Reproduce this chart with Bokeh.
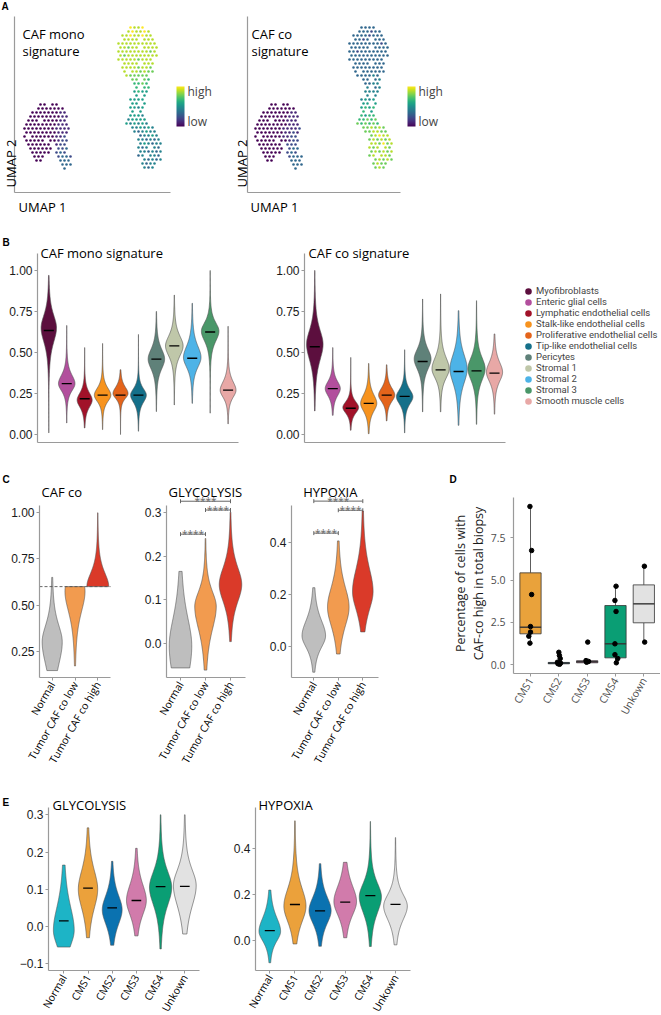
import math
import numpy as np
from bokeh.plotting import figure
from bokeh.models import (Label, ColorBar, LinearColorMapper, FixedTicker, Legend,
                          LegendItem, Whisker, TeeHead, ColumnDataSource, Range1d,
                          NumeralTickFormatter)
from bokeh.layouts import column, row
from bokeh.palettes import Viridis256
from bokeh.embed import file_html
from bokeh.resources import INLINE

SANS = "Open Sans"
ARIAL = "Liberation Sans"
AXIS_GRAY = "#9a9a9a"
OUTLINE = "#505050"

# ----------------------------------------------------------------- data: A (UMAP)
# each character is one cell of the picture: '.' empty, digit = signature level 0..9
umap_left_mono = [
    "....00.00...",
    "...0000000..",
    "..000000011.",
    ".0000000011.",
    ".000.000011.",
    "00000000111.",
    "000000001111",
    "00000000111.",
    "0.000000112.",
    "00000.00122.",
    ".000000.122.",
    ".000000.223.",
    "..00000.232.",
    "..000...2332",
    "...00....333",
    ".........333",
    "..........3.",
]
umap_left_co = [
    "....00.00...",
    "...0000000..",
    "..000000011.",
    ".0000000111.",
    ".000.000111.",
    "00000000111.",
    "000000011112",
    "00000001121.",
    "0.000001122.",
    "00000.00122.",
    ".000000.222.",
    ".000000.233.",
    "..00000.232.",
    "..000...2333",
    "...00....333",
    ".........333",
    "..........3.",
]
umap_right_mono = [
    "...9889....",
    "..898898...",
    ".88988988..",
    ".8888.888..",
    "8888888888.",
    "88788.8888.",
    "8888888878.",
    "8788888888.",
    "888887888..",
    ".8888.888..",
    ".88887887..",
    ".8.887877..",
    "..877777...",
    "...77.76...",
    "....6676...",
    "....6.66...",
    "....5655...",
    "....5.5....",
    "...5555....",
    "...55.5....",
    "...5545....",
    "...5.5.....",
    "...5554....",
    "..45555....",
    "..545454...",
    "...445454..",
    "....434544.",
    ".....34454.",
    ".....443434",
    ".....454344",
    ".....434.43",
    ".....443434",
    ".....34.443",
    "......43434",
    "......4344.",
    "......434..",
]
umap_right_co = [
    "...3333....",
    "..333233...",
    ".33332333..",
    ".3323.333..",
    "3333333323.",
    "33333.3333.",
    "3323333333.",
    "3333333333.",
    "333333333..",
    ".3333.333..",
    ".33333333..",
    ".3.333333..",
    "..333343...",
    "...33.34...",
    "....3344...",
    "....4.34...",
    "....4444...",
    "....4.4....",
    "...4545....",
    "...55.5....",
    "...5656....",
    "...6.5.....",
    "...6566....",
    "..66767....",
    "..767676...",
    "...778787..",
    "....778877.",
    ".....78988.",
    ".....787878",
    ".....887978",
    ".....878.87",
    ".....787878",
    ".....78.887",
    "......78787",
    "......7877.",
    "......787..",
]
left_cluster_origin = (-6.8, 0.0)
right_cluster_origin = (2.6, 7.7)
umap_cell = 0.4

# ----------------------------------------------------------------- data: B
cell_types = ["Myofibroblasts", "Enteric glial cells", "Lymphatic endothelial cells",
              "Stalk-like endothelial cells", "Proliferative endothelial cells",
              "Tip-like endothelial cells", "Pericytes", "Stromal 1", "Stromal 2",
              "Stromal 3", "Smooth muscle cells"]
cell_colors = ["#5C0F3E", "#B24F9D", "#A11229", "#F7931E", "#E4641B", "#15708A",
               "#5F8179", "#BFC7A9", "#4DB3E7", "#4A9769", "#E8A8A6"]
mono_lo = [0.01, 0.07, 0.04, 0.03, 0.00, 0.02, 0.14, 0.18, 0.19, 0.13, 0.065]
mono_hi = [0.97, 0.665, 0.53, 0.555, 0.395, 0.61, 0.75, 0.85, 0.80, 1.00, 0.66]
mono_med = [0.634, 0.31, 0.218, 0.24, 0.24, 0.24, 0.46, 0.54, 0.465, 0.625, 0.27]
mono_peak = [0.65, 0.31, 0.21, 0.24, 0.25, 0.24, 0.46, 0.54, 0.47, 0.63, 0.27]
mono_wid = [0.43, 0.46, 0.42, 0.46, 0.42, 0.44, 0.46, 0.49, 0.49, 0.49, 0.44]
mono_sup = [0.09, 0.06, 0.05, 0.05, 0.045, 0.045, 0.07, 0.07, 0.08, 0.06, 0.06]
mono_sdn = [0.10, 0.05, 0.05, 0.045, 0.035, 0.05, 0.07, 0.07, 0.07, 0.07, 0.05]

co_lo = [0.144, 0.117, 0.026, 0.005, 0.083, 0.01, 0.138, 0.138, 0.056, 0.062, 0.124]
co_hi = [1.00, 0.53, 0.47, 0.433, 0.425, 0.517, 0.826, 0.857, 0.755, 0.816, 0.613]
co_med = [0.535, 0.28, 0.16, 0.19, 0.24, 0.233, 0.445, 0.394, 0.384, 0.388, 0.374]
co_peak = [0.55, 0.28, 0.165, 0.19, 0.24, 0.23, 0.46, 0.40, 0.40, 0.40, 0.38]
co_wid = [0.46, 0.42, 0.44, 0.45, 0.45, 0.46, 0.47, 0.48, 0.48, 0.48, 0.45]
co_sup = [0.10, 0.05, 0.04, 0.06, 0.05, 0.05, 0.07, 0.08, 0.10, 0.08, 0.07]
co_sdn = [0.11, 0.05, 0.04, 0.055, 0.045, 0.05, 0.07, 0.065, 0.10, 0.08, 0.065]

# ----------------------------------------------------------------- data: C
c_groups = ["Normal", "Tumor CAF co low", "Tumor CAF co high"]
c_colors = ["#BEBEBE", "#F29B4F", "#DA3A29"]
cafco_lo = [0.145, 0.17, 0.60]
cafco_hi = [0.65, 0.60, 1.00]
cafco_peak = [0.30, 0.575, 0.60]
cafco_wid = [0.44, 0.44, 0.48]
cafco_sup = [0.108, 0.10, 0.087]
cafco_sdn = [0.146, 0.13, 0.05]
cafco_cut = 0.6

glyc_lo = [-0.055, -0.06, 0.005]
glyc_hi = [0.165, 0.24, 0.30]
glyc_peak = [-0.005, 0.085, 0.135]
glyc_wid = [0.45, 0.43, 0.45]
glyc_sup = [0.076, 0.04, 0.046]
glyc_sdn = [0.09, 0.061, 0.046]
glyc_brackets = [(1, 2, 0.25), (2, 3, 0.305), (1, 3, 0.325)]

hyp_lo = [-0.10, -0.03, 0.055]
hyp_hi = [0.225, 0.405, 0.52]
hyp_peak = [0.04, 0.15, 0.21]
hyp_wid = [0.48, 0.44, 0.42]
hyp_sup = [0.07, 0.091, 0.104]
hyp_sdn = [0.053, 0.086, 0.082]
hyp_brackets = [(1, 2, 0.435), (2, 3, 0.523), (1, 3, 0.558)]
signif = "****"

# ----------------------------------------------------------------- data: D
cms = ["CMS1", "CMS2", "CMS3", "CMS4", "Unkown"]
d_colors = ["#E9A23B", "#0A72B0", "#D17BAB", "#0A9E74", "#E2E2E2"]
d_q1 = [1.83, 0.06, 0.12, 0.41, 2.48]
d_med = [2.22, 0.10, 0.18, 1.24, 3.60]
d_q3 = [5.43, 0.14, 0.24, 3.50, 4.72]
d_wlo = [1.28, 0.06, 0.12, 0.12, 1.34]
d_whi = [9.41, 0.14, 0.24, 4.64, 5.82]
d_pt_group = [1] * 7 + [2] * 7 + [3] * 4 + [4] * 7 + [5] * 2
d_pt_val = [9.35, 6.75, 4.15, 2.26, 1.93, 1.69, 1.28,
            0.74, 0.55, 0.37, 0.15, 0.10, 0.06, 0.03,
            1.34, 0.25, 0.20, 0.15,
            4.64, 3.80, 3.15, 1.24, 0.60, 0.37, 0.12,
            5.82, 1.34]
d_pt_jitter = [-0.02, 0.04, 0.04, 0.0, 0.0, -0.06, -0.02,
               0.0, 0.02, 0.05, -0.05, 0.06, -0.03, 0.03,
               0.02, -0.04, 0.05, -0.02,
               0.02, -0.02, 0.02, -0.02, -0.02, 0.08, 0.03,
               0.02, 0.03]

# ----------------------------------------------------------------- data: E
e_groups = ["Normal", "CMS1", "CMS2", "CMS3", "CMS4", "Unkown"]
e_colors = ["#1DB4C6", "#EBA13B", "#0A72B0", "#D17BAB", "#0A9E74", "#E2E2E2"]
eg_lo = [-0.055, -0.03, -0.05, -0.025, -0.06, -0.02]
eg_hi = [0.165, 0.265, 0.175, 0.21, 0.30, 0.30]
eg_med = [0.015, 0.103, 0.05, 0.07, 0.107, 0.108]
eg_peak = [-0.01, 0.10, 0.045, 0.07, 0.105, 0.11]
eg_wid = [0.43, 0.40, 0.41, 0.41, 0.46, 0.47]
eg_sup = [0.075, 0.06, 0.045, 0.05, 0.05, 0.05]
eg_sdn = [0.049, 0.06, 0.045, 0.045, 0.055, 0.065]

eh_lo = [-0.097, -0.015, -0.025, 0.012, -0.026, -0.019]
eh_hi = [0.22, 0.522, 0.335, 0.341, 0.519, 0.449]
eh_med = [0.043, 0.157, 0.129, 0.167, 0.196, 0.158]
eh_peak = [0.04, 0.15, 0.13, 0.17, 0.19, 0.15]
eh_wid = [0.43, 0.44, 0.44, 0.45, 0.44, 0.47]
eh_sup = [0.07, 0.09, 0.07, 0.08, 0.07, 0.06]
eh_sdn = [0.05, 0.08, 0.065, 0.07, 0.08, 0.07]

# ----------------------------------------------------------------- helpers
FR = {}


def make_fig(X0, Y0, W, H, xm, ym):
    """xm / ym = (page pixel, data value at that pixel, pixels per data unit)."""
    xr = (xm[1] + (X0 - xm[0]) / xm[2], xm[1] + (X0 + W - xm[0]) / xm[2])
    yr = (ym[1] - (Y0 + H - ym[0]) / ym[2], ym[1] + (ym[0] - Y0) / ym[2])
    p = figure(width=W, height=H, x_range=Range1d(*xr), y_range=Range1d(*yr),
               output_backend="svg", toolbar_location=None, min_border=0,
               min_border_left=0, min_border_right=0, min_border_top=0,
               min_border_bottom=0)
    p.grid.visible = False
    p.outline_line_color = None
    p.background_fill_color = "white"
    p.border_fill_color = "white"
    for ax in (p.xaxis[0], p.yaxis[0]):
        ax.axis_line_color = AXIS_GRAY
        ax.axis_line_width = 1.2
        ax.major_tick_line_color = AXIS_GRAY
        ax.major_tick_in = 0
        ax.major_tick_out = 3
        ax.minor_tick_line_color = None
        ax.major_label_standoff = 2
    FR[p.id] = (X0, Y0, W, H, xm, ym)
    return p


def xv(p, pix):
    xm = FR[p.id][4]
    return xm[1] + (pix - xm[0]) / xm[2]


def yv(p, pix):
    ym = FR[p.id][5]
    return ym[1] + (ym[0] - pix) / ym[2]


def set_axes(p, left, right, top, bottom):
    p.yaxis[0].fixed_location = xv(p, left)
    p.yaxis[0].bounds = (yv(p, bottom), yv(p, top))
    p.xaxis[0].fixed_location = yv(p, bottom)
    p.xaxis[0].bounds = (xv(p, left), xv(p, right))


def add_text(p, X, Y, text, size, font=SANS, bold=False, color="black",
             align="left", baseline="alphabetic", angle=0.0):
    X0, Y0, W, H = FR[p.id][:4]
    p.add_layout(Label(x=X - X0, y=Y0 + H - Y, x_units="screen", y_units="screen",
                       text=text, text_font=font, text_font_size=f"{size}px",
                       text_font_style="bold" if bold else "normal",
                       text_color=color, text_align=align, text_baseline=baseline,
                       angle=angle))


def no_ticks(ax):
    ax.ticker = FixedTicker(ticks=[])
    ax.major_tick_line_color = None
    ax.major_label_text_font_size = "0px"


def y_ticks(ax, ticks, fmt, font=ARIAL, size=12, color="#1a1a1a"):
    ax.ticker = FixedTicker(ticks=ticks)
    ax.formatter = NumeralTickFormatter(format=fmt)
    ax.major_label_text_font = font
    ax.major_label_text_font_size = f"{size}px"
    ax.major_label_text_color = color


def x_cats(ax, labels, size=10.5, color="black"):
    ax.ticker = FixedTicker(ticks=list(range(1, len(labels) + 1)))
    ax.major_label_overrides = {i + 1: lab for i, lab in enumerate(labels)}
    ax.major_label_orientation = math.pi / 3
    ax.major_label_text_font = SANS
    ax.major_label_text_font_size = f"{size}px"
    ax.major_label_text_color = color


def violins(p, lo, hi, peak, wid, sup, sdn, colors):
    xs_all, ys_all = [], []
    for i in range(len(lo)):
        xc = i + 1
        ys = np.linspace(lo[i], hi[i], 120)
        s = np.where(ys > peak[i], sup[i], sdn[i])
        z = (ys - peak[i]) / s
        hw = wid[i] * (1.0 + z * z / 3.0) ** -2
        xs_all.append(list(np.concatenate([xc - hw, (xc + hw)[::-1]])))
        ys_all.append(list(np.concatenate([ys, ys[::-1]])))
    p.patches(xs=xs_all, ys=ys_all, fill_color=colors, line_color=OUTLINE, line_width=0.6)


def medians(p, med, half):
    x = [i + 1 for i in range(len(med))]
    p.segment(x0=[v - half for v in x], x1=[v + half for v in x], y0=med, y1=med,
              line_color="black", line_width=1.3)


def cluster(rows, origin, step):
    xs, ys, lv = [], [], []
    for r, line in enumerate(rows):
        for c, ch in enumerate(line):
            if ch != ".":
                xs.append(origin[0] + (c + 0.5 * (r % 2)) * step)
                ys.append(origin[1] - r * step)
                lv.append(int(ch))
    return xs, ys, lv


def umap_panel(p, left_map, right_map, cb_loc):
    no_ticks(p.xaxis[0])
    no_ticks(p.yaxis[0])
    xs, ys, cols = [], [], []
    for m, org in ((left_map, left_cluster_origin), (right_map, right_cluster_origin)):
        a, b, lv = cluster(m, org, umap_cell)
        xs += a
        ys += b
        cols += [Viridis256[int(round(v / 9 * 255))] for v in lv]
    p.scatter(x=xs, y=ys, size=2.6, fill_color=cols, line_color=None)
    mapper = LinearColorMapper(palette=Viridis256, low=0, high=9)
    cb = ColorBar(color_mapper=mapper, width=8, height=40,
                  ticker=FixedTicker(ticks=[1.1, 7.9]),
                  major_label_overrides={1.1: "low", 7.9: "high"},
                  major_tick_line_color=None, major_label_text_font=SANS,
                  major_label_text_font_size="12px", label_standoff=3,
                  bar_line_color=None, border_line_color=None,
                  background_fill_color=None, padding=0, margin=0,
                  location=cb_loc)
    p.add_layout(cb, "center")


# ----------------------------------------------------------------- row A  (y 0..220)
UL = make_fig(0, 0, 228, 220, (92, 0.0, 10.0), (104, 0.0, 10.0))
UR = make_fig(228, 0, 432, 220, (323, 0.0, 10.0), (104, 0.0, 10.0))
set_axes(UL, 14, 170, 16, 192)
set_axes(UR, 247, 400, 16, 192)
umap_panel(UL, umap_left_mono, umap_right_mono, (176, 94))
umap_panel(UR, umap_left_co, umap_right_co, (407 - 228, 94))
add_text(UL, 1, 0, "A", 10, font=ARIAL, bold=True, baseline="top")
add_text(UL, 22, 33.3, "CAF mono", 13)
add_text(UL, 22, 50.3, "signature", 13)
add_text(UL, 10.5, 187, "UMAP 2", 13, angle=math.pi / 2)
add_text(UL, 18, 206.5, "UMAP 1", 13)
add_text(UR, 251, 33.3, "CAF co", 13)
add_text(UR, 251, 50.3, "signature", 13)
add_text(UR, 241, 187, "UMAP 2", 13, angle=math.pi / 2)
add_text(UR, 250, 206.5, "UMAP 1", 13)

# ----------------------------------------------------------------- row B  (y 220..460)
BL = make_fig(0, 220, 270, 240, (48.3, 1.0, 17.93), (434, 0.0, 164.0))
BR = make_fig(270, 220, 390, 240, (314.3, 1.0, 17.97), (434, 0.0, 164.0))
set_axes(BL, 37, 238, 253, 442)
set_axes(BR, 304, 505, 253, 442)
for p, lo, hi, md, pk, wd, su, sd in ((BL, mono_lo, mono_hi, mono_med, mono_peak, mono_wid, mono_sup, mono_sdn),
                                      (BR, co_lo, co_hi, co_med, co_peak, co_wid, co_sup, co_sdn)):
    no_ticks(p.xaxis[0])
    y_ticks(p.yaxis[0], [0, 0.25, 0.5, 0.75, 1], "0.00")
    violins(p, lo, hi, pk, wd, su, sd, cell_colors)
    medians(p, md, 0.28)
add_text(BL, 2, 236, "B", 10, font=ARIAL, bold=True, baseline="top")
add_text(BL, 40, 252.5, "CAF mono signature", 13)
add_text(BR, 308, 252.5, "CAF co signature", 13)

leg_items = []
for name, col in zip(cell_types, cell_colors):
    # one off-scale key point per cell type: only its legend swatch is seen
    r = BR.scatter(x=[float("nan")], y=[float("nan")], size=4, marker="circle",
                   fill_color=col, line_color=col, line_width=2.6)
    leg_items.append(LegendItem(label=name, renderers=[r]))
legend = Legend(items=leg_items, location=(523 - 270, 460 - 406.3), label_text_font="Roboto",
                label_text_font_size="9.5px",
                glyph_width=10, glyph_height=10, label_height=9, label_width=10,
                label_standoff=3, spacing=0, padding=0, margin=0,
                border_line_color=None, background_fill_alpha=0)
BR.add_layout(legend, "center")

# ----------------------------------------------------------------- row C / D  (y 460..765)
C1 = make_fig(0, 460, 140, 305, (51.7, 1.0, 22.8), (650.7, 0.25, 184.53))
C2 = make_fig(140, 460, 125, 305, (180.0, 1.0, 25.0), (643.3, 0.0, 438.67))
C3 = make_fig(265, 460, 180, 305, (313.3, 1.0, 24.5), (645.7, 0.0, 260.0))
D = make_fig(445, 460, 215, 305, (530.0, 1.0, 28.33), (664.3, 0.0, 16.933))
set_axes(C1, 39, 110, 505, 677)
set_axes(C2, 166, 245, 505, 677)
set_axes(C3, 291, 378, 505, 677)
set_axes(D, 513, 660, 497, 673)

y_ticks(C1.yaxis[0], [0.25, 0.5, 0.75, 1], "0.00")
y_ticks(C2.yaxis[0], [0, 0.1, 0.2, 0.3], "0.0")
y_ticks(C3.yaxis[0], [0, 0.2, 0.4], "0.0")
for p in (C1, C2, C3):
    x_cats(p.xaxis[0], c_groups)
violins(C1, cafco_lo, cafco_hi, cafco_peak, cafco_wid, cafco_sup, cafco_sdn, c_colors)
C1.segment(x0=[C1.xaxis[0].bounds[0]], x1=[C1.xaxis[0].bounds[1]], y0=[cafco_cut],
           y1=[cafco_cut], line_color="#555555", line_width=0.9, line_dash="3 2")
violins(C2, glyc_lo, glyc_hi, glyc_peak, glyc_wid, glyc_sup, glyc_sdn, c_colors)
violins(C3, hyp_lo, hyp_hi, hyp_peak, hyp_wid, hyp_sup, hyp_sdn, c_colors)
for p, br in ((C2, glyc_brackets), (C3, hyp_brackets)):
    src = ColumnDataSource(dict(base=[b[2] for b in br], lower=[b[0] for b in br],
                                upper=[b[1] for b in br]))
    p.add_layout(Whisker(source=src, base="base", lower="lower", upper="upper",
                         dimension="width", line_color="#666666", line_width=1,
                         lower_head=TeeHead(size=4, line_color="#666666", line_width=1),
                         upper_head=TeeHead(size=4, line_color="#666666", line_width=1)))
    for a, b, yval in br:
        p.add_layout(Label(x=(a + b) / 2, y=yval, text=signif, text_font=SANS,
                           text_font_size="10px", text_color="#666666",
                           text_align="center", text_baseline="alphabetic"))
add_text(C1, 2, 473, "C", 10, font=ARIAL, bold=True, baseline="top")
add_text(C1, 41, 491.7, "CAF co", 13)
add_text(C2, 168, 491.7, "GLYCOLYSIS", 13)
add_text(C3, 302.7, 491.7, "HYPOXIA", 13)

# D boxplot
y_ticks(D.yaxis[0], [0, 2.5, 5, 7.5], "0.0", font=SANS, size=10.5, color="#4d4d4d")
D.yaxis[0].major_label_standoff = 5
x_cats(D.xaxis[0], cms, size=10.5, color="#4d4d4d")
dx = list(range(1, len(cms) + 1))
D.segment(x0=dx, x1=dx, y0=d_q3, y1=d_whi, line_color="#333333", line_width=0.8)
D.segment(x0=dx, x1=dx, y0=d_wlo, y1=d_q1, line_color="#333333", line_width=0.8)
D.vbar(x=dx, width=0.75, bottom=d_q1, top=d_q3, fill_color=d_colors,
       line_color="#333333", line_width=0.8)
D.segment(x0=[v - 0.375 for v in dx], x1=[v + 0.375 for v in dx], y0=d_med, y1=d_med,
          line_color="#333333", line_width=1.4)
D.scatter(x=[g + j for g, j in zip(d_pt_group, d_pt_jitter)], y=d_pt_val, size=4.5,
          fill_color="black", line_color="black")
add_text(D, 449, 473, "D", 10, font=ARIAL, bold=True, baseline="top")
add_text(D, 460, 583, "Percentage of cells with", 12.5, color="#1a1a1a",
         align="center", baseline="middle", angle=math.pi / 2)
add_text(D, 478, 583, "CAF-co high in total biopsy", 12.5, color="#1a1a1a",
         align="center", baseline="middle", angle=math.pi / 2)

# ----------------------------------------------------------------- row E  (y 765..1014)
E1 = make_fig(0, 765, 220, 249, (63.3, 1.0, 24.2), (814.3, 0.3, 372.5))
E2 = make_fig(220, 765, 440, 249, (269.3, 1.0, 25.14), (940.0, 0.0, 229.25))
set_axes(E1, 48, 199, 806.7, 970)
set_axes(E2, 255, 410, 806.7, 970)
y_ticks(E1.yaxis[0], [-0.1, 0, 0.1, 0.2, 0.3], "0.0")
E1.yaxis[0].major_label_overrides = {-0.1: "\u22120.1"}
y_ticks(E2.yaxis[0], [0, 0.2, 0.4], "0.0")
for p in (E1, E2):
    x_cats(p.xaxis[0], e_groups)
violins(E1, eg_lo, eg_hi, eg_peak, eg_wid, eg_sup, eg_sdn, e_colors)
medians(E1, eg_med, 0.2)
violins(E2, eh_lo, eh_hi, eh_peak, eh_wid, eh_sup, eh_sdn, e_colors)
medians(E2, eh_med, 0.2)
add_text(E1, 2, 796, "E", 10, font=ARIAL, bold=True, baseline="top")
add_text(E1, 52, 804, "GLYCOLYSIS", 13)
add_text(E2, 258, 804, "HYPOXIA", 13)

layout = column(row(UL, UR), row(BL, BR), row(C1, C2, C3, D), row(E1, E2))
open("out.html", "w").write(file_html(layout, INLINE))
